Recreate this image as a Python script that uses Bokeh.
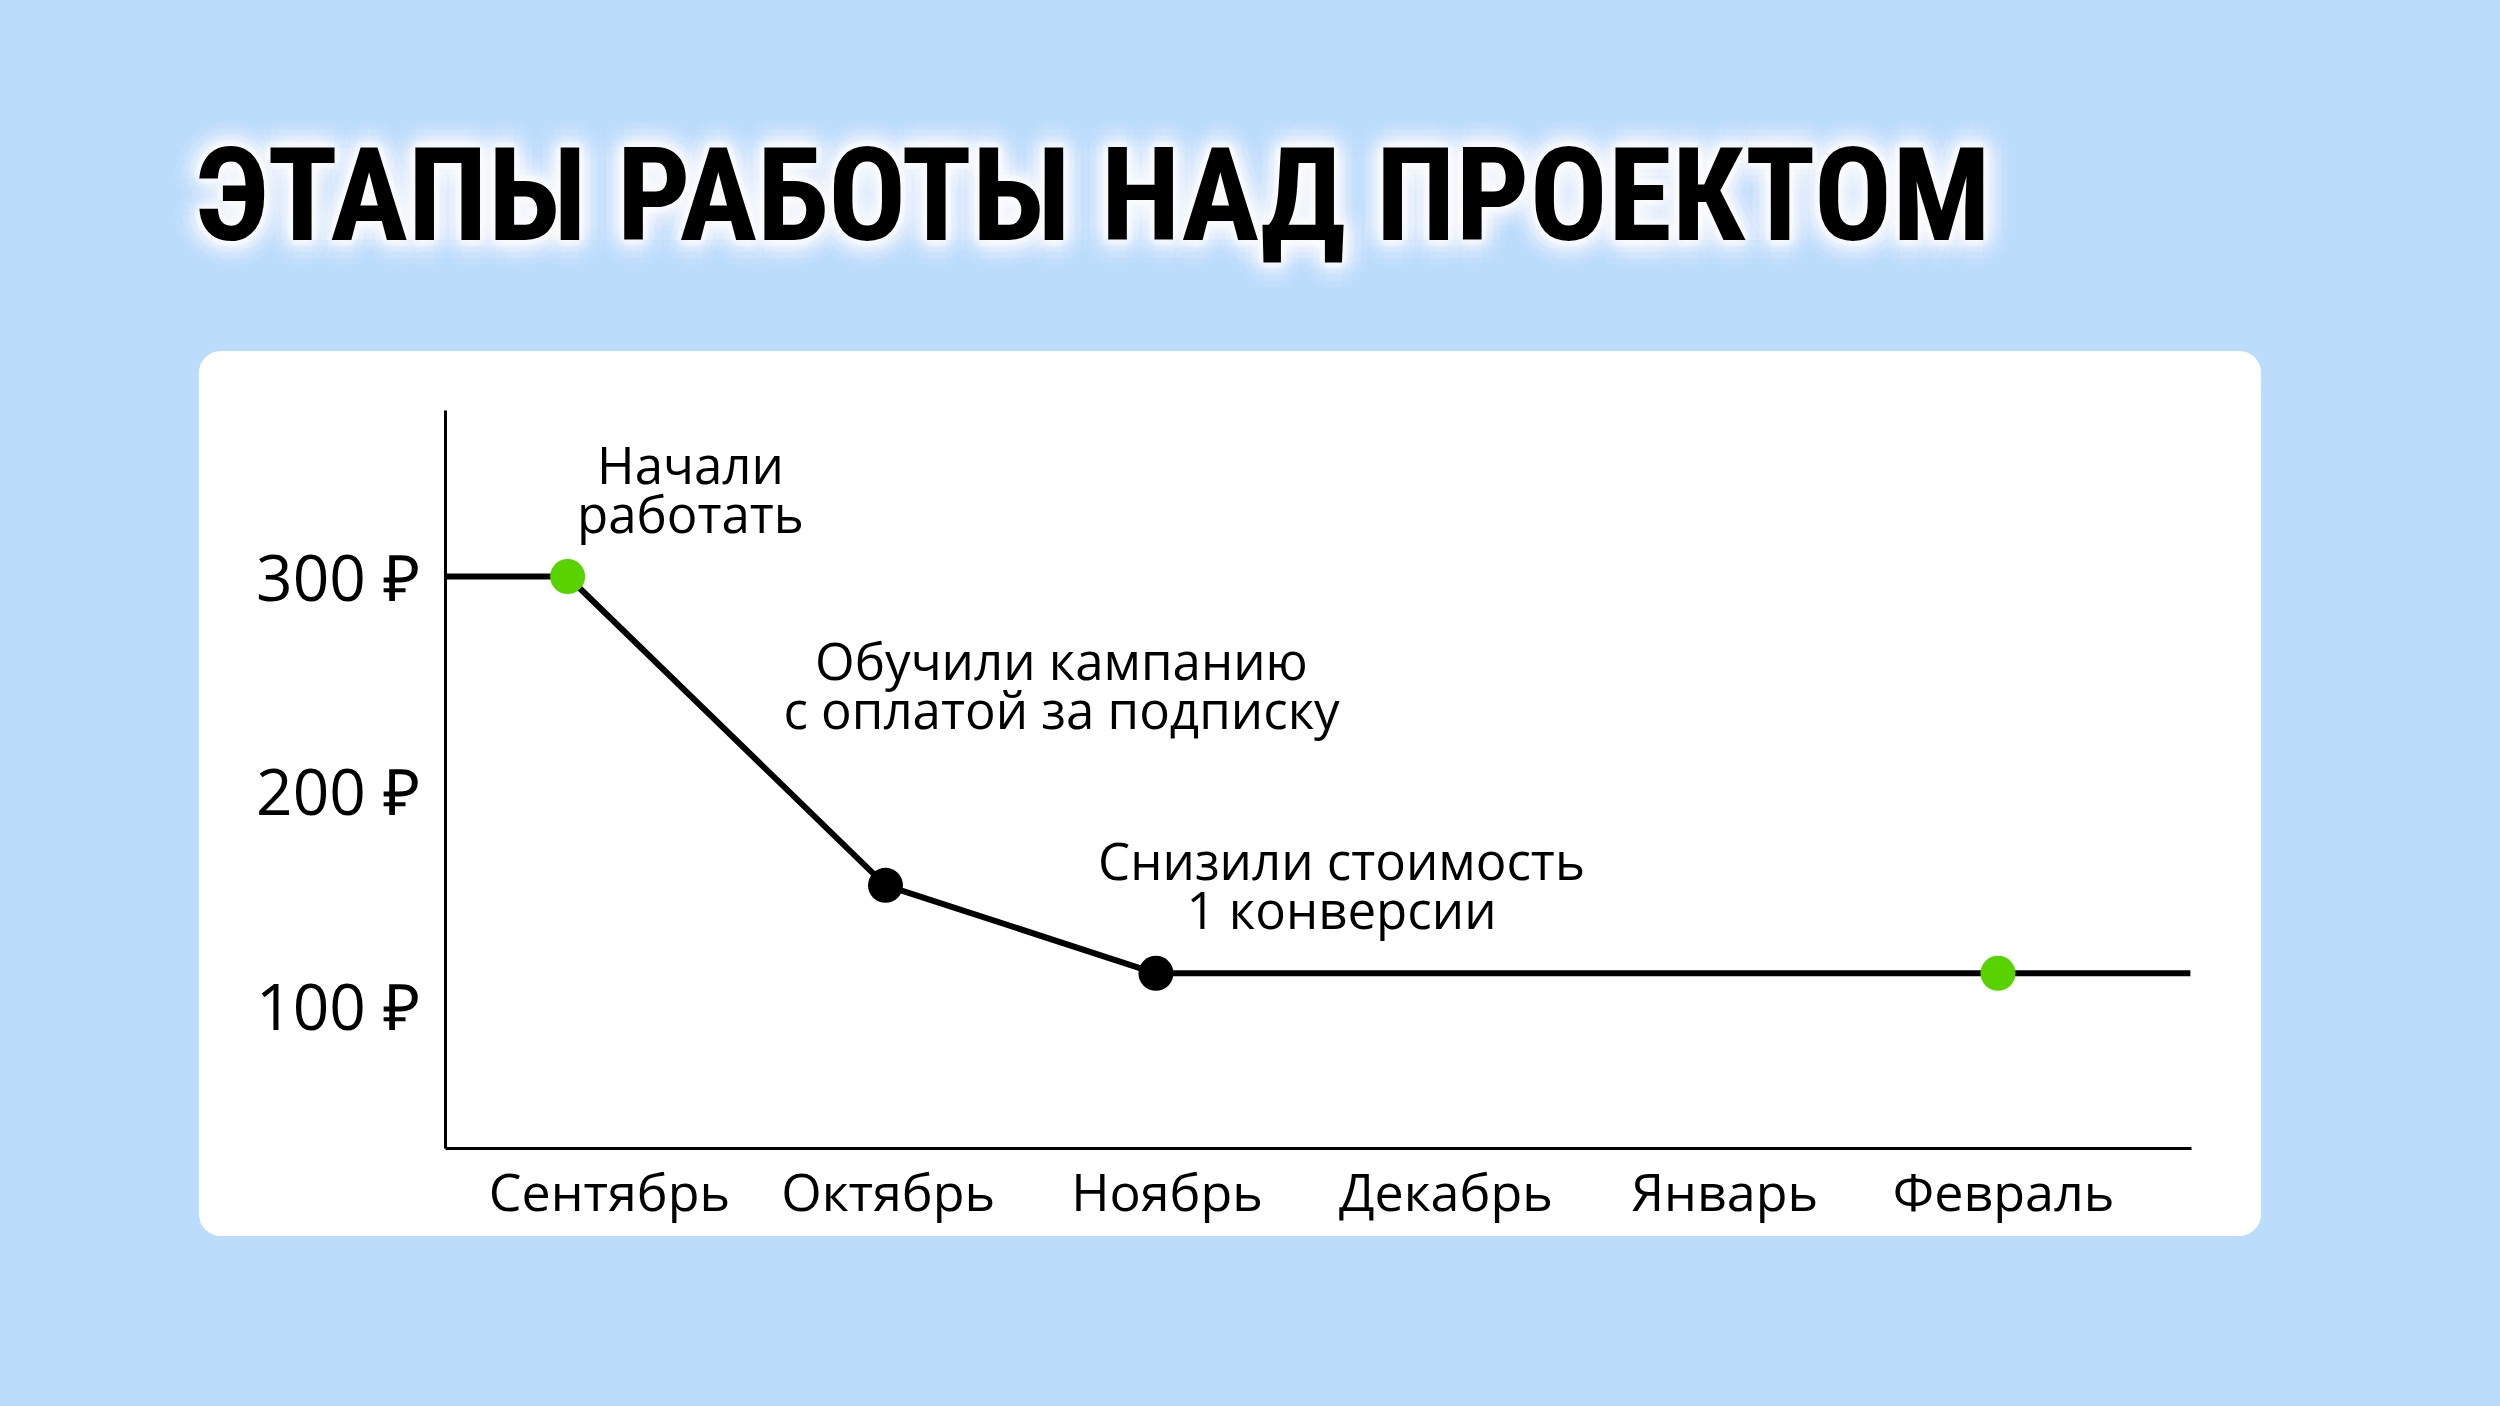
import math
from bokeh.plotting import figure
from bokeh.models import Label, FixedTicker, Range1d, Spacer
from bokeh.layouts import column, row
from bokeh.embed import file_html
from bokeh.resources import INLINE

# ---------------- data ----------------
months = ["Сентябрь", "Октябрь", "Ноябрь", "Декабрь", "Январь", "Февраль"]
month_pos = [0, 1, 2, 3, 4, 5]
y_ticks = [100, 200, 300]
y_tick_labels = ["100 ₽", "200 ₽", "300 ₽"]

line_x = [-0.59, -0.15, 0.99, 1.96, 5.67]
line_y = [300, 300, 156, 115, 115]

point_x = [-0.15, 0.99, 1.96, 4.98]
point_y = [300, 156, 115, 115]
point_kind = ["milestone", "step", "step", "milestone"]

notes = [["Начали", "работать"],
         ["Обучили кампанию", "с оплатой за подписку"],
         ["Снизили стоимость", "1 конверсии"]]

title_text = "ЭТАПЫ РАБОТЫ НАД ПРОЕКТОМ"

# ---------------- style ----------------
BG = "#BCDCFC"
GREEN = "#58D300"
FONT = "Open Sans"
TITLE_FONT = "Roboto Condensed"

PAGE_W, PAGE_H = 2500, 1406
CARD_L, CARD_T, CARD_R, CARD_B = 199, 351, 2261, 1236
FRAME_L, FRAME_T, FRAME_R, FRAME_B = 445, 410, 2191, 1148

X0, X1 = -0.588, 5.674
Y0, Y1 = 33.3, 377.4

# page-pixel -> data helpers (for placing decorations only)
def dx(px):
    return (px - 609) / 278.8

def dy(py):
    return 300 + (576 - py) / 2.145

# ---------------- title strip ----------------
t = figure(width=PAGE_W, height=CARD_T, x_range=Range1d(0, PAGE_W), y_range=Range1d(CARD_T, 0),
           output_backend="svg", toolbar_location=None, title=None,
           min_border=0, background_fill_color=BG, border_fill_color=BG,
           outline_line_color=None)
t.axis.visible = False
t.grid.visible = False
TX, TY = 195, 195
TSIZE = "130px"
for r, a in [(26, 0.05), (19, 0.07), (12, 0.1), (6, 0.16)]:
    for k in range(16):
        ang = 2 * math.pi * k / 16
        t.add_layout(Label(x=TX, y=TY, x_offset=r * math.cos(ang), y_offset=r * math.sin(ang),
                           text=title_text, text_align="left", text_baseline="alphabetic",
                           text_font=TITLE_FONT, text_font_style="bold",
                           text_font_size=TSIZE, text_color="white", text_alpha=a))
t.add_layout(Label(x=TX, y=TY, text=title_text, text_align="left", text_baseline="alphabetic",
                   text_font=TITLE_FONT, text_font_style="bold",
                   text_font_size=TSIZE, text_color="black"))

# ---------------- chart card ----------------
cw, ch = CARD_R - CARD_L, CARD_B - CARD_T
p = figure(width=cw, height=ch, x_range=(X0, X1), y_range=(Y0, Y1),
           output_backend="svg", toolbar_location=None, title=None,
           min_border_left=FRAME_L - CARD_L, min_border_right=CARD_R - FRAME_R,
           min_border_top=FRAME_T - CARD_T, min_border_bottom=CARD_B - FRAME_B,
           background_fill_color="white", background_fill_alpha=0.0,
           border_fill_color="white",
           outline_line_color=None,
           styles={"border-radius": "22px", "overflow": "hidden", "background-color": "white"})
p.grid.visible = False

for ax in (p.xaxis[0], p.yaxis[0]):
    ax.axis_line_color = "black"
    ax.axis_line_width = 3
    ax.major_tick_line_color = None
    ax.minor_tick_line_color = None
    ax.major_tick_in = 0
    ax.major_tick_out = 0
    ax.major_label_text_color = "black"
    ax.major_label_text_font = FONT

p.xaxis.ticker = FixedTicker(ticks=month_pos)
p.xaxis.major_label_overrides = {m: lab for m, lab in zip(month_pos, months)}
p.xaxis.major_label_text_font_size = "52px"
p.xaxis.major_label_standoff = 6

p.yaxis.ticker = FixedTicker(ticks=y_ticks)
p.yaxis.major_label_overrides = {v: lab for v, lab in zip(y_ticks, y_tick_labels)}
p.yaxis.major_label_text_font_size = "64px"
p.yaxis.major_label_standoff = 26

p.line(line_x, line_y, line_width=6, line_color="black", line_join="round")
colors = [GREEN if k == "milestone" else "black" for k in point_kind]
p.scatter(point_x, point_y, size=35, fill_color=colors, line_color=None)

note_center_px = [690, 1061, 1341]
note_base_px = [463, 660, 860]
line_gap_px = 49
for lines, cx, by in zip(notes, note_center_px, note_base_px):
    for i, txt in enumerate(lines):
        p.add_layout(Label(x=dx(cx), y=dy(by + i * line_gap_px), text=txt,
                           text_align="center", text_baseline="alphabetic",
                           text_font=FONT, text_font_size="51px",
                           text_color="black"))

layout = column(
    t,
    row(Spacer(width=CARD_L, height=ch), p, Spacer(width=PAGE_W - CARD_R, height=ch)),
    Spacer(width=PAGE_W, height=PAGE_H - CARD_B),
    styles={"background-color": BG},
)

open("out.html", "w").write(file_html(layout, INLINE))
